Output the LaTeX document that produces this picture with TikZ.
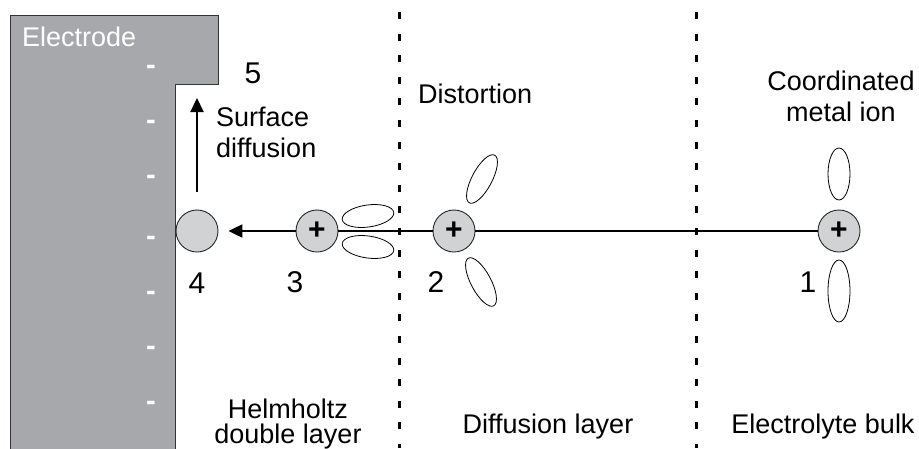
\documentclass[tikz,border=0pt]{standalone}
\usepackage{fontspec}
\setmainfont{Liberation Sans}
\usetikzlibrary{arrows.meta}
\definecolor{electrodegray}{RGB}{167,168,171}
\definecolor{iongray}{RGB}{209,210,212}
\begin{document}
\begin{tikzpicture}[x=1pt,y=-1pt,
  lbl/.style={font=\fontsize{27}{31}\selectfont, inner sep=0pt},
  num/.style={font=\fontsize{30}{34}\selectfont, inner sep=0pt, anchor=base},
  ion/.style={circle, draw=black!85, line width=0.9pt, fill=iongray, minimum size=42pt, inner sep=0pt, font=\fontsize{30}{30}\selectfont\bfseries},
  lobe/.style={draw=black, line width=0.8pt},
  sepline/.style={line width=3pt, dash pattern=on 7pt off 14.6pt},
  minus/.style={text=white, font=\fontsize{29}{29}\selectfont\bfseries, inner sep=0pt, anchor=base},
  arr/.style={-{Triangle[length=14pt,width=13pt]}, line width=2.2pt},
  path/.style={line width=2.4pt},
]
\useasboundingbox (0,0) rectangle (919,448);
\fill[white] (0,0) rectangle (919,448);
% electrode
\draw[fill=electrodegray, draw=black!80, line width=0.8pt]
  (10,15) -- (218,15) -- (218,84) -- (175,84) -- (175,470) -- (10,470) -- cycle;
\node[lbl, anchor=base west, text=white] (elab) at (22,46) {Electrode};
\foreach \yy [count=\i] in {66,121,176,237,292,347,402}
  \node[minus] (m\i) at (151,\yy+8) {-};
% separators
\draw[sepline] (399,12) -- (399,448);
\draw[sepline] (696,12) -- (696,448);
% ions
\node[ion] (n4) at (197,231) {};
\node[ion] (n3) at (317,231) {+};
\node[ion] (n2) at (454,231) {+};
\node[ion] (n1) at (839,231) {+};
\coordinate (s5) at (197,98);
\draw[path] (n3) -- (n2);
\draw[path] (n2) -- (n1);
\draw[arr, shorten >=10pt] (n3) -- (n4);
\draw[arr, shorten <=18pt] (n4) -- (s5);
% lobes
\draw[lobe, rotate around={8:(368,216)}] (368,216) ellipse [x radius=26, y radius=11];
\draw[lobe, rotate around={-8:(368,247)}] (368,247) ellipse [x radius=26, y radius=11];
\draw[lobe, rotate around={62:(482,179)}] (482,179) ellipse [x radius=27, y radius=10];
\draw[lobe, rotate around={-62:(481,282)}] (481,282) ellipse [x radius=27, y radius=10];
\draw[lobe] (839,174) ellipse [x radius=11, y radius=26];
\draw[lobe] (839,291) ellipse [x radius=11, y radius=31];
% numbers
\node[num] (l5) at (253,83) {5};
\node[num] (l4) at (197,293) {4};
\node[num] (l3) at (295,292) {3};
\node[num] (l2) at (436,292) {2};
\node[num] (l1) at (808,292) {1};
% labels (base anchor = baseline of last line)
\node[lbl, anchor=base west, align=left] (sd) at (216,157) {Surface\\diffusion};
\node[lbl, anchor=base west] (dist) at (418,103) {Distortion};
\node[lbl, anchor=base, align=center] (cmi) at (841,121) {Coordinated\\metal ion};
\node[lbl, anchor=base, align=center, font=\fontsize{27}{25}\selectfont] (hdl) at (288,443) {Helmholtz\\double layer};
\node[lbl, anchor=base] (dl) at (548,433) {Diffusion layer};
\node[lbl, anchor=base] (eb) at (823,433) {Electrolyte bulk};
\end{tikzpicture}
\end{document}
